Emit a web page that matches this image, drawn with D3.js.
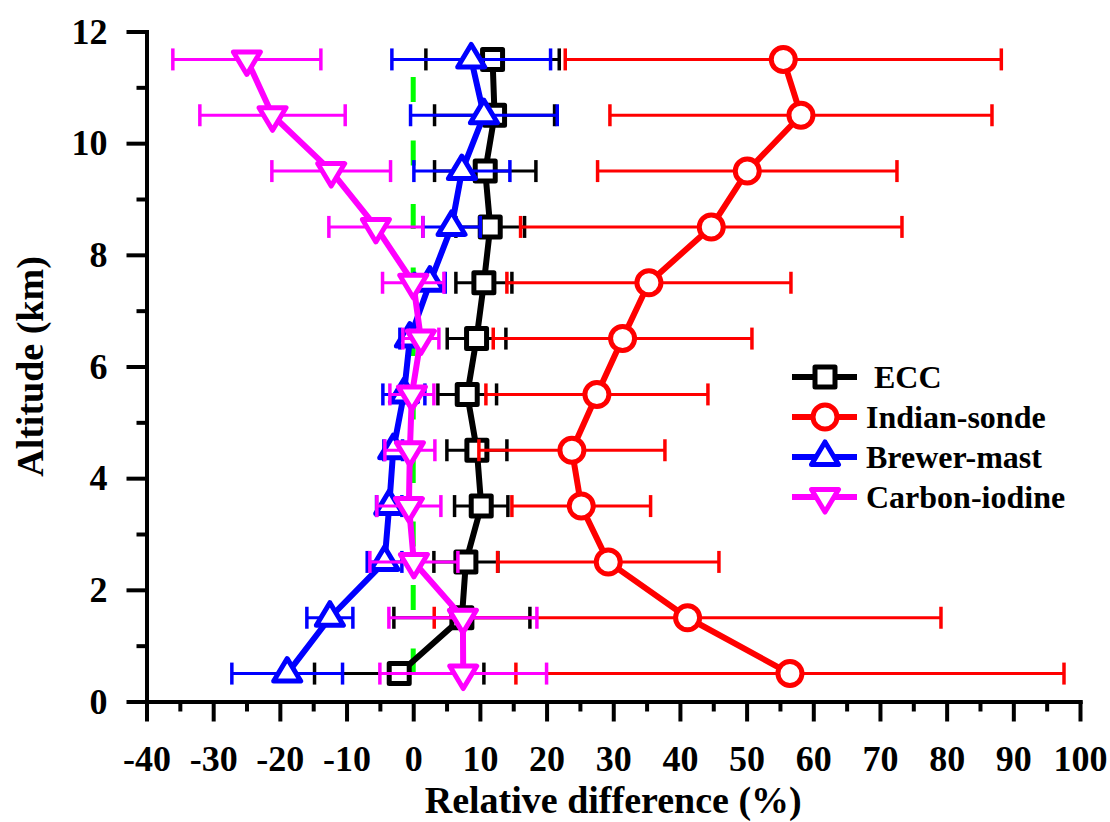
<!DOCTYPE html>
<html>
<head>
<meta charset="utf-8">
<script src="https://cdn.jsdelivr.net/npm/d3@7"></script>
<style>
    body { margin: 0; background: #fff; }
    text { font-family: "Liberation Serif", "Times New Roman", serif; font-weight: bold; fill: #000; }
</style>
</head>
<body>
<div id="dataviz"></div>
<script>
"use strict";

// Altitude levels (km)
var altitudes = [0.5, 1.5, 2.5, 3.5, 4.5, 5.5, 6.5, 7.5, 8.5, 9.5, 10.5, 11.5];

// Relative difference (%) and error (+/-) for each sonde type
var eccMean = [-2.1, 7.3, 7.9, 10.2, 9.55, 8.1, 9.5, 10.6, 11.55, 10.8, 12.2, 11.9];
var eccErr = [12.7, 10.2, 4.8, 4.0, 4.5, 4.4, 4.4, 4.2, 5.15, 7.6, 9.0, 10.0];

var indianMean = [56.5, 41.15, 29.25, 25.2, 23.8, 27.55, 31.4, 35.35, 44.7, 50.1, 58.15, 55.5];
var indianErr = [41.1, 38.0, 16.6, 10.4, 13.95, 16.65, 19.4, 21.3, 28.6, 22.45, 28.65, 32.7];

var brewerMean = [-18.9, -12.5, -4.3, -3.6, -3.0, -1.4, -0.5, 2.5, 5.75, 7.3, 10.6, 8.7];
var brewerErr = [8.3, 3.45, 2.6, 1.9, 1.4, 3.15, 1.5, 2.3, 4.3, 7.2, 11.0, 11.9];

var carbonMean = [7.5, 7.45, 0.1, -0.65, -0.5, -0.2, 1.15, 0.0, -5.6, -12.3, -21.1, -24.95];
var carbonErr = [12.5, 11.1, 6.6, 4.8, 3.75, 3.3, 2.7, 4.6, 7.05, 8.9, 10.9, 11.1];

// Axis ticks
var xTicks = [-40, -30, -20, -10, 0, 10, 20, 30, 40, 50, 60, 70, 80, 90, 100];
var xMinorTicks = [-35, -25, -15, -5, 5, 15, 25, 35, 45, 55, 65, 75, 85, 95];
var yTicks = [0, 2, 4, 6, 8, 10, 12];
var yMinorTicks = [1, 3, 5, 7, 9, 11];

// Reference line at zero
var zeroLine = [[0, 0.5], [0, 11.5]];

var seriesNames = ["ECC", "Indian-sonde", "Brewer-mast", "Carbon-iodine"];
var seriesColors = ["#000000", "#ff0000", "#0000ff", "#ff00ff"];
var seriesMarkers = ["square", "circle", "up", "down"];

// Layout
var W = 1110, H = 822;
var svg = d3.select("#dataviz").append("svg")
    .attr("width", W)
    .attr("height", H);

var xScale = d3.scaleLinear().domain([-40, 100]).range([146.5, 1080]);
var yScale = d3.scaleLinear().domain([0, 12]).range([701.5, 31.5]);

var plotBottom = yScale(0);
var plotLeft = xScale(-40);

// -----------------------------------------------------------------------
// ------------------------------ Axes -----------------------------------
// -----------------------------------------------------------------------
function noMinus(d){ return String(d); }

var xAxis = d3.axisBottom(xScale).tickValues(xTicks).tickSize(20).tickSizeOuter(0)
    .tickPadding(24).tickFormat(noMinus);
var xMinor = d3.axisBottom(xScale).tickValues(xMinorTicks).tickSize(10).tickSizeOuter(0)
    .tickFormat("");
var yAxis = d3.axisLeft(yScale).tickValues(yTicks).tickSize(20).tickSizeOuter(0)
    .tickPadding(19).tickFormat(noMinus);
var yMinor = d3.axisLeft(yScale).tickValues(yMinorTicks).tickSize(10).tickSizeOuter(0)
    .tickFormat("");

function styleAxis(sel){
    sel.selectAll("path").attr("stroke", "#000").attr("stroke-width", 4).attr("stroke-linecap", "square");
    sel.selectAll("line").attr("stroke", "#000").attr("stroke-width", 4);
    sel.selectAll("text").attr("font-size", 36).attr("fill", "#000")
        .style("font-family", "'Liberation Serif', 'Times New Roman', serif").style("font-weight", "bold");
}

svg.append("g").attr("transform", "translate(0," + plotBottom + ")").call(xMinor).call(styleAxis);
svg.append("g").attr("transform", "translate(0," + plotBottom + ")").call(xAxis).call(styleAxis);
svg.append("g").attr("transform", "translate(" + plotLeft + ",0)").call(yMinor).call(styleAxis);
svg.append("g").attr("transform", "translate(" + plotLeft + ",0)").call(yAxis).call(styleAxis);

// Axis titles
svg.append("text")
    .attr("x", (xScale(-40) + xScale(100)) / 2)
    .attr("y", 813)
    .attr("text-anchor", "middle")
    .attr("font-size", 38)
    .text("Relative difference (%)");

svg.append("text")
    .attr("transform", "translate(43," + ((yScale(0) + yScale(12)) / 2) + ")rotate(-90)")
    .attr("text-anchor", "middle")
    .attr("font-size", 38)
    .text("Altitude (km)");

// -----------------------------------------------------------------------
// ----------------------------- Markers ---------------------------------
// -----------------------------------------------------------------------
function drawMarker(g, type, color, cx, cy){
    var m;
    if(type == "square"){
        m = g.append("rect").attr("x", cx - 10).attr("y", cy - 10).attr("width", 20).attr("height", 20);
    }else if(type == "circle"){
        m = g.append("circle").attr("cx", cx).attr("cy", cy).attr("r", 12);
    }else if(type == "up"){
        m = g.append("path").attr("d", "M" + cx + "," + (cy - 15) + "L" + (cx + 13.5) + "," + (cy + 7.5) +
            "L" + (cx - 13.5) + "," + (cy + 7.5) + "Z");
    }else{
        m = g.append("path").attr("d", "M" + cx + "," + (cy + 15) + "L" + (cx + 13.5) + "," + (cy - 7.5) +
            "L" + (cx - 13.5) + "," + (cy - 7.5) + "Z");
    }
    m.attr("fill", "#fff").attr("stroke", color).attr("stroke-width", 5).attr("stroke-linejoin", "round");
}

// -----------------------------------------------------------------------
// ------------------------------ Series ---------------------------------
// -----------------------------------------------------------------------
var allMeans = [eccMean, indianMean, brewerMean, carbonMean];
var allErrs = [eccErr, indianErr, brewerErr, carbonErr];

var line = d3.line()
    .x(function (d) { return xScale(d[0]); })
    .y(function (d) { return yScale(d[1]); });

// Green dashed zero line
svg.append("path")
    .datum(zeroLine)
    .attr("d", line)
    .attr("fill", "none")
    .attr("stroke", "#00ff00")
    .attr("stroke-width", 5)
    .attr("stroke-dasharray", "25,38.5");

allMeans.forEach(function(means, s){
    var errs = allErrs[s];
    var color = seriesColors[s];
    var data = altitudes.map(function(a, i){ return [means[i], a, errs[i]]; });
    var g = svg.append("g");

    // error bars
    var eb = g.selectAll(".eb").data(data).enter().append("g");
    eb.append("line")
        .attr("x1", function(d){ return xScale(d[0] - d[2]); })
        .attr("x2", function(d){ return xScale(d[0] + d[2]); })
        .attr("y1", function(d){ return yScale(d[1]); })
        .attr("y2", function(d){ return yScale(d[1]); })
        .attr("stroke", color).attr("stroke-width", 3);
    [-1, 1].forEach(function(sign){
        eb.append("line")
            .attr("x1", function(d){ return xScale(d[0] + sign * d[2]); })
            .attr("x2", function(d){ return xScale(d[0] + sign * d[2]); })
            .attr("y1", function(d){ return yScale(d[1]) - 11; })
            .attr("y2", function(d){ return yScale(d[1]) + 11; })
            .attr("stroke", color).attr("stroke-width", 3.5);
    });

    // connecting line
    g.append("path")
        .datum(data)
        .attr("d", line)
        .attr("fill", "none")
        .attr("stroke", color)
        .attr("stroke-width", 6)
        .attr("stroke-linejoin", "round");

    // markers
    data.forEach(function(d){
        drawMarker(g, seriesMarkers[s], color, xScale(d[0]), yScale(d[1]));
    });
});

// -----------------------------------------------------------------------
// ------------------------------ Legend ---------------------------------
// -----------------------------------------------------------------------
var legendY = [377, 417, 457, 497];
seriesNames.forEach(function(name, s){
    var lg = svg.append("g");
    lg.append("line")
        .attr("x1", 792).attr("x2", 857)
        .attr("y1", legendY[s]).attr("y2", legendY[s])
        .attr("stroke", seriesColors[s]).attr("stroke-width", 6);
    drawMarker(lg, seriesMarkers[s], seriesColors[s], 825, legendY[s]);
    lg.append("text")
        .attr("x", s == 0 ? 874 : 866)
        .attr("y", legendY[s] + 11)
        .attr("font-size", 32)
        .text(name);
});
</script>
</body>
</html>
